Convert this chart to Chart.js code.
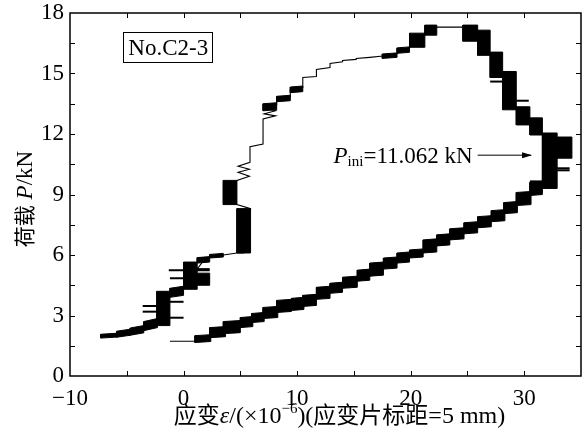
<!DOCTYPE html>
<html><head><meta charset="utf-8">
<script src="https://cdn.jsdelivr.net/npm/chart.js@4"></script>
<style>html,body{margin:0;padding:0;background:#fff}#wrap{width:587px;height:436px;position:relative}</style>
</head><body><div id="wrap"><canvas id="c"></canvas></div>
<script>
// ---------- data ----------
const xLabelTicks = [-10, 0, 10, 20, 30];
const yLabelTicks = [0, 3, 6, 9, 12, 15, 18];

// thin trajectory (strain, load)
const pathX = [-7.1,-5.9,-4.7,-3.5,-2.35,-1.8,-1.2,-0.6,0.0,0.6,1.2,1.8,2.3,3.5,4.7,5.3,5.9,5.3,5.9,4.7,4.1,4.7,
  5.8,4.8,5.8,4.8,5.85,5.85,7.0,7.0,8.1,7.1,8.1,7.1,8.2,8.2,9.4,9.4,10.5,10.5,11.7,11.7,12.9,12.9,14.0,14.0,15.2,15.2,16.4,17.55,
  18.8,19.9,21.25,22.3,24.6,25.9,27.0,28.1,29.3,30.5,31.6,32.3,33.5,32.3,31.6,
  31.0,29.95,28.8,27.7,26.5,25.3,24.1,22.9,21.7,20.5,19.35,18.2,17.0,15.85,14.65,13.45,12.3,11.1,10.05,8.85,7.65,6.55,5.55,4.25,3.0,1.7,1.0,-1.2];
const pathY = [2.0,2.05,2.15,2.3,2.6,3.3,4.1,4.2,4.4,5.0,5.3,5.75,5.9,6.0,6.1,6.1,6.3,7.2,8.3,8.5,9.1,9.7,
  9.9,10.1,10.25,10.4,10.6,11.37,11.5,12.75,12.9,13.0,13.15,13.3,13.45,13.75,13.85,14.2,14.3,14.8,14.85,15.2,15.3,15.5,15.58,15.65,15.7,15.74,15.8,15.87,
  16.0,16.3,16.95,17.3,17.3,17.0,16.0,15.0,13.3,12.5,12.0,11.1,11.3,10.5,9.4,
  9.3,8.8,8.35,7.95,7.65,7.35,7.05,6.75,6.45,6.07,5.87,5.6,5.3,5.0,4.65,4.37,4.12,3.75,3.57,3.47,3.15,2.9,2.67,2.42,2.17,1.85,1.72,1.72];

// dense cycling blocks: [strainFrom, strainTo, loadLow, loadHigh, loadRise]
const loadingBlocks = [
  [-7.3,-5.9,1.88,2.12,0.05],[-5.9,-4.7,1.92,2.32,0.1],[-4.7,-3.5,2.02,2.5,0.12],[-3.5,-2.3,2.25,2.85,0.15],
  [-2.35,-1.2,2.5,4.2,0],[-1.2,0.0,3.9,4.45,0.1],[0.0,1.2,4.3,5.65,0],[1.2,2.3,4.5,5.1,0],[1.2,2.3,5.6,5.92,0.05],
  [2.3,3.5,5.85,6.08,0.05],[4.7,5.9,6.1,8.3,0],[3.5,4.7,8.5,9.7,0],
  [7.0,8.2,13.15,13.55,0.05],[8.2,9.4,13.6,13.92,0.05],[9.4,10.5,14.05,14.38,0.05],
  [17.5,18.8,15.75,16.02,0.05],[18.8,19.9,16.0,16.32,0.05],[19.9,21.25,16.3,17.0,0],[21.25,22.3,16.9,17.4,0]
];
const peakBlocks = [
  [24.6,25.9,16.6,17.4,0],[25.9,27.0,15.9,17.15,0],[27.0,28.1,14.8,16.06,0],[28.1,29.3,13.2,15.1,0],
  [29.3,30.5,12.45,13.35,0],[30.5,31.6,11.95,12.8,0],[31.6,32.9,9.3,12.05,0],[32.9,34.2,10.8,11.85,0]
];
const unloadingBlocks = [
  [30.5,31.6,8.95,9.65,0.05],[29.3,30.6,8.45,9.15,0.05],[28.2,29.4,8.05,8.65,0.05],[27.1,28.3,7.65,8.25,0.05],
  [25.9,27.1,7.35,7.95,0.05],[24.7,25.9,7.05,7.65,0.05],[23.45,24.7,6.75,7.35,0.05],[22.3,23.45,6.45,7.05,0.05],
  [21.1,22.3,6.1,6.8,0.05],[19.9,21.1,5.85,6.3,0.05],[18.8,19.9,5.6,6.15,0.05],[17.6,18.8,5.3,5.9,0.05],
  [16.4,17.6,4.95,5.65,0.05],[15.3,16.4,4.7,5.3,0.05],[14.0,15.3,4.35,4.95,0.05],[12.9,14.0,4.1,4.65,0.05],
  [11.7,12.9,3.8,4.45,0.05],[10.5,11.7,3.45,4.05,0.05],[9.5,10.6,3.25,3.9,0.05],[8.2,9.5,3.15,3.8,0.05],
  [7.0,8.3,2.85,3.45,0.05],[6.0,7.1,2.65,3.15,0.05],[5.0,6.1,2.4,2.95,0.05],[3.5,5.0,2.1,2.75,0.05],
  [2.3,3.7,1.9,2.45,0.05],[1.0,2.4,1.66,2.05,0.05]
];
// stray excursions: [strainFrom, strainTo, load]
const stubs = [
  [-3.6,-2.35,3.47],[-3.6,-2.35,3.19],[-1.2,0.0,3.68],[-1.2,0.0,2.89],[-1.3,2.3,5.25],[-1.2,2.3,4.85],
  [1.2,2.3,5.3],[27.0,28.1,14.6],[29.3,30.4,13.65],[32.9,34.0,10.3],[32.9,34.0,10.2],[30.5,31.6,9.65],[30.5,31.6,9.55]
];
// annotations
const specimenName = 'No.C2-3';
const pIniValue = '11.062';
const arrowFrom = [25.9, 10.95];
const arrowTo = [30.6, 10.95];
const nameBoxAt = [-5.31, 17.04];

// ---------- chart ----------
const SERIF = '"Liberation Serif","Times New Roman",serif';
const CJK = '"Noto Sans CJK SC","Noto Sans CJK JP",sans-serif';
const pts = (xs, ys) => xs.map((x, i) => ({x, y: ys[i]}));
const datasets = [];
datasets.push({data: pts(pathX, pathY), borderColor:'#000', borderWidth:1.1, pointRadius:0, fill:false, tension:0});
[...loadingBlocks, ...peakBlocks, ...unloadingBlocks].forEach(b => {
  const [x0,x1,lo,hi,r] = b;
  datasets.push({data:[{x:x0,y:lo},{x:x1,y:lo+r},{x:x1,y:hi},{x:x0,y:hi-r},{x:x0,y:lo}],
    borderColor:'#000', backgroundColor:'#000', borderWidth:1, pointRadius:0, fill:'shape', tension:0});
});
stubs.forEach(s => {
  datasets.push({data:[{x:s[0],y:s[2]},{x:s[1],y:s[2]}], borderColor:'#000', borderWidth:2, pointRadius:0, fill:false});
});
datasets.push({data:[{x:arrowFrom[0],y:arrowFrom[1]},{x:arrowTo[0],y:arrowTo[1]}], borderColor:'#000', borderWidth:1, pointRadius:0, fill:false});

function drawRun(ctx, pieces, x, y) {
  let cx = x;
  pieces.forEach(p => { ctx.font = p.f; ctx.fillText(p.t, cx, y + (p.dy || 0)); cx += ctx.measureText(p.t).width; });
  return cx - x;
}
function runWidth(ctx, pieces) {
  let w = 0; pieces.forEach(p => { ctx.font = p.f; w += ctx.measureText(p.t).width; }); return w;
}

const decor = {
  id: 'decor',
  afterDraw(chart) {
    const {ctx, chartArea: a, scales: {x, y}} = chart;
    ctx.save();
    ctx.strokeStyle = '#000'; ctx.fillStyle = '#000';
    // inward ticks
    ctx.lineWidth = 1;
    ctx.beginPath();
    x.ticks.forEach(t => { const p = Math.round(x.getPixelForValue(t.value)) + 0.5;
      if (p < a.left + 2 || p > a.right - 2) return;
      ctx.moveTo(p, a.bottom); ctx.lineTo(p, a.bottom - 5); ctx.moveTo(p, a.top); ctx.lineTo(p, a.top + 5); });
    y.ticks.forEach(t => { const p = Math.round(y.getPixelForValue(t.value)) + 0.5;
      if (p < a.top + 2 || p > a.bottom - 2) return;
      ctx.moveTo(a.left, p); ctx.lineTo(a.left + 5, p); ctx.moveTo(a.right, p); ctx.lineTo(a.right - 5, p); });
    ctx.stroke();
    // frame
    ctx.lineWidth = 1.5;
    ctx.strokeRect(a.left, a.top, a.right - a.left, a.bottom - a.top);

    ctx.textBaseline = 'alphabetic';
    // specimen box
    const bx = x.getPixelForValue(nameBoxAt[0]), by = y.getPixelForValue(nameBoxAt[1]);
    ctx.lineWidth = 1;
    ctx.strokeRect(Math.round(bx) + 0.5, Math.round(by) + 0.5, 89, 30);
    ctx.font = '23px ' + SERIF; ctx.textAlign = 'center';
    ctx.fillText(specimenName, bx + 45, by + 23);
    ctx.textAlign = 'left';

    // arrow head + P_ini label
    const ax = x.getPixelForValue(arrowTo[0]), ay = y.getPixelForValue(arrowTo[1]);
    ctx.beginPath(); ctx.moveTo(ax + 1, ay); ctx.lineTo(ax - 9, ay - 3); ctx.lineTo(ax - 9, ay + 3); ctx.closePath(); ctx.fill();
    const tx = x.getPixelForValue(arrowFrom[0]);
    const lab = [{t:'P', f:'italic 23px ' + SERIF}, {t:'ini', f:'15px ' + SERIF, dy:3}, {t:'=' + pIniValue + ' kN', f:'23px ' + SERIF}];
    const lw = runWidth(ctx, lab);
    drawRun(ctx, lab, tx - 5 - lw, ay + 8);

    // x title
    const xt = [{t:'应变', f:'23px ' + CJK}, {t:'ε', f:'italic 24px ' + SERIF}, {t:'/(×10', f:'24px ' + SERIF},
      {t:'−6', f:'15px ' + SERIF, dy:-10}, {t:')(', f:'24px ' + SERIF}, {t:'应变片标距', f:'23px ' + CJK}, {t:'=5 mm)', f:'24px ' + SERIF}];
    const xw = runWidth(ctx, xt);
    drawRun(ctx, xt, (a.left + a.right) / 2 + 14 - xw / 2, 423);

    // y title (rotated)
    const yt = [{t:'荷载', f:'21px ' + CJK}, {t:' ', f:'23px ' + SERIF}, {t:'P', f:'italic 23px ' + SERIF}, {t:'/kN', f:'23px ' + SERIF}];
    const yw = runWidth(ctx, yt);
    ctx.translate(32, 199 + yw / 2);
    ctx.rotate(-Math.PI / 2);
    drawRun(ctx, yt, 0, 0);
    ctx.restore();
  }
};

new Chart(document.getElementById('c'), {
  type: 'line',
  data: {datasets},
  plugins: [decor],
  options: {
    responsive: true, maintainAspectRatio: false, animation: false, devicePixelRatio: 1,
    layout: {padding: {top: 13, right: 6, left: 0, bottom: 0}},
    plugins: {legend: {display: false}, tooltip: {enabled: false}, filler: {propagate: false}},
    scales: {
      x: {type: 'linear', min: -10, max: 35,
        grid: {display: false, drawTicks: false}, border: {display: false},
        ticks: {stepSize: 5, autoSkip: false, maxRotation: 0, padding: 9, color: '#000', font: {family: SERIF, size: 23},
          callback: v => xLabelTicks.includes(v) ? (v < 0 ? '\u2212' + (-v) : String(v)) : ''},
        afterFit: s => { s.height = 60; s.paddingLeft = 0; s.paddingRight = 0; }},
      y: {type: 'linear', min: 0, max: 18,
        grid: {display: false, drawTicks: false}, border: {display: false},
        ticks: {stepSize: 1.5, autoSkip: false, padding: 6, color: '#000', font: {family: SERIF, size: 23},
          callback: v => yLabelTicks.includes(v) ? String(v) : ''},
        afterFit: s => { s.width = 70; s.paddingTop = 0; s.paddingBottom = 0; }}
    }
  }
});
</script></body></html>
